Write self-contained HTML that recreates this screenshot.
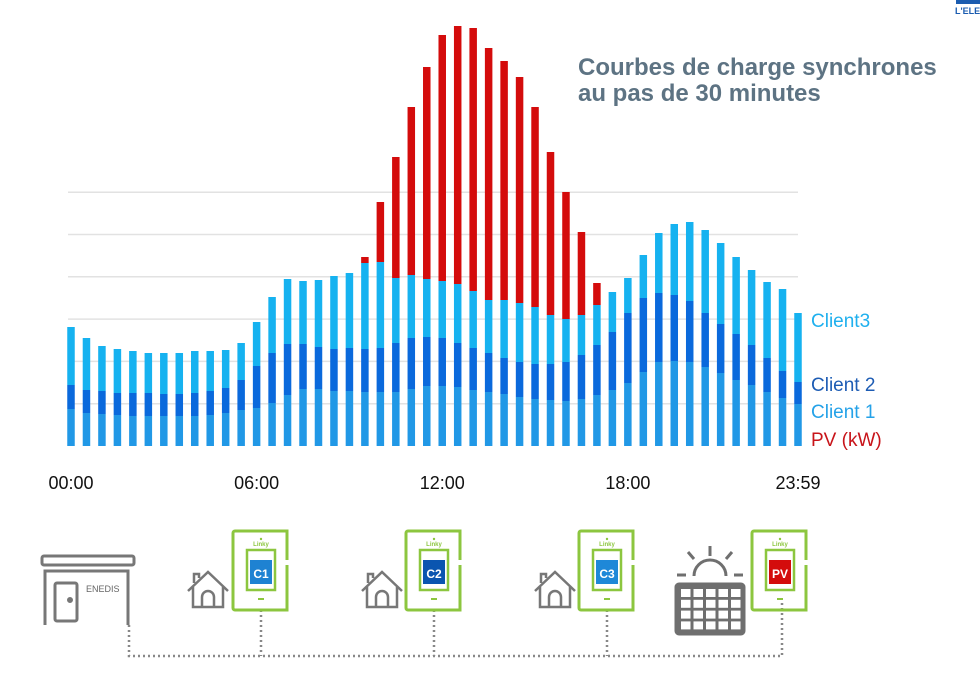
<!DOCTYPE html>
<html><head><meta charset="utf-8">
<style>
body{margin:0;background:#fff;width:980px;height:676px;overflow:hidden;font-family:"Liberation Sans","DejaVu Sans",sans-serif}
svg{position:absolute;left:0;top:0}
</style></head>
<body>
<svg id="chart" width="980" height="676" viewBox="0 0 980 676">
  <text x="955" y="14" font-size="9" font-weight="bold" fill="#1b5cb0">L'ELEC</text>
  <rect x="956" y="0" width="24" height="4" fill="#1b5cb0"/>
  <text x="578" y="75" font-size="24" font-weight="bold" fill="#5d7383">Courbes de charge synchrones</text>
  <text x="578" y="101" font-size="24" font-weight="bold" fill="#5d7383">au pas de 30 minutes</text>
  <g id="grid"></g>
  <g id="bars"></g>
  <g id="xlabels"></g>
  <text x="811" y="327" font-size="19" fill="#1fb0ee">Client3</text>
  <text x="811" y="391" font-size="19" fill="#1d5cb4">Client 2</text>
  <text x="811" y="418" font-size="19" fill="#25a2e8">Client 1</text>
  <text x="811" y="446" font-size="19" fill="#c8141a">PV (kW)</text>

  <g fill="none" stroke="#888" stroke-width="2.5" stroke-dasharray="2 3">
    <path d="M129 625 V656 H782 V600"/>
    <path d="M261 610 V656"/><path d="M434 610 V656"/><path d="M607 610 V656"/>
  </g>
  <g fill="none" stroke="#777" stroke-width="3">
    <rect x="42" y="556" width="92" height="9" rx="2"/>
    <path d="M45 625 V571 H128 V625"/>
    <rect x="55" y="583" width="22" height="38" rx="2"/>
    <circle cx="70" cy="600" r="1.5" fill="#777"/>
    <text x="86" y="592" font-size="9" fill="#666" stroke="none">ENEDIS</text>
  </g>
  <g id="houses"></g>
  <g id="meters"></g>
  <g stroke="#6f6f6f" fill="none" stroke-width="3">
    <path d="M694 576 A16 16 0 0 1 726 576"/>
    <path d="M710 546 v10 M688 552 l6 7 M732 552 l-6 7 M677 575 h9 M734 575 h9"/>
    <rect x="676" y="584" width="68" height="50" rx="3" fill="#6f6f6f"/>
  </g>
  <g id="cells"></g>
</svg>
<script>
const categories = [];
for (let h = 0; h < 24; h++) { categories.push(String(h).padStart(2,'0')+':00'); categories.push(String(h).padStart(2,'0')+':30'); }
const tickLabels = ['00:00','06:00','12:00','18:00','23:59'];
const tickIndex = [0,12,24,36,47];
const client1 = [370,330,320,310,300,300,300,300,300,310,330,360,380,430,510,570,570,550,550,540,540,540,570,600,600,590,560,540,520,490,470,460,450,470,510,560,630,740,840,850,840,790,730,660,610,540,480,420];
const client2 = [240,230,230,220,230,230,220,220,230,240,250,300,420,500,510,450,420,420,430,430,440,490,510,490,480,440,420,390,360,350,350,360,390,440,500,580,700,740,690,660,610,540,490,460,400,340,270,220];
const client3 = [580,520,450,440,420,400,410,410,420,400,380,370,440,560,650,630,670,730,750,860,860,650,630,580,570,590,570,530,580,590,570,490,430,400,400,400,350,430,600,710,790,830,810,770,750,760,820,690];
const pv = [0,0,0,0,0,0,0,0,0,0,0,0,0,0,0,0,0,0,0,60,600,1210,1680,2120,2460,2580,2630,2520,2390,2260,2000,1630,1270,830,220,0,0,0,0,0,0,0,0,0,0,0,0,0];

const NS='http://www.w3.org/2000/svg';
const X0=71, X1=798, BASE=446, VMAX=4230, PH=423, BW=7.5;
const xs = i => X0 + i*(X1-X0)/(categories.length-1);
const ys = v => BASE - v/VMAX*PH;
function mk(tag, attrs, parent){const e=document.createElementNS(NS,tag);for(const k in attrs)e.setAttribute(k,attrs[k]);parent.appendChild(e);return e;}

const grid=document.getElementById('grid');
[1,2,3,4,5,6].forEach(k=>{
  const y=ys(k*VMAX/10);
  const l=mk('line',{x1:68,x2:798,y1:y,y2:y,stroke:'#e2e2e2','stroke-width':1.5},grid);
  
  
});

const bars=document.getElementById('bars');
const series=[['client1',client1,'#2198e6'],['client2',client2,'#0a69dc'],['client3',client3,'#16b2f0'],['pv',pv,'#d40c0c']];
categories.forEach((c,i)=>{
  let acc=0;
  series.forEach(([nm,arr,col])=>{
    const v=arr[i]; if(!v) return;
    const yTop=ys(acc+v), yB=ys(acc);
    const r=mk('rect',{x:xs(i)-BW/2,y:yTop,width:BW,height:yB-yTop,fill:col},bars);
    
    
    acc+=v;
  });
});

const xl=document.getElementById('xlabels');
tickLabels.forEach((t,k)=>{
  const e=mk('text',{x:xs(tickIndex[k]),y:489,'font-size':18,'text-anchor':'middle',fill:'#111'},xl);
  e.textContent=t;
  
  
});

const houses=document.getElementById('houses');
[188,362,535].forEach(x=>{
  const g=mk('g',{fill:'none',stroke:'#777','stroke-width':2.5},houses);
  
  
  mk('path',{d:`M${x} 591 L${x+20} 572 L${x+40} 591 M${x+5} 587 V607 H${x+35} V587 M${x+14} 607 V597 a6 6 0 0 1 12 0 V607 M${x+6} 583 V574 h5 v4`},g);
});

const meters=document.getElementById('meters');
[[233,'C1','#1e82d2'],[406,'C2','#0a55b0'],[579,'C3','#1e88d8'],[752,'PV','#d40c0c']].forEach(([x,lab,col])=>{
  const g=mk('g',{},meters);
  
  
  mk('path',{d:`M${x+54} 560 V531 H${x+2} a2 2 0 0 0 -2 2 V608 a2 2 0 0 0 2 2 H${x+54} V565`,fill:'none',stroke:'#8cc63f','stroke-width':3},g);
  mk('path',{d:`M${x+54} 566 V606`,stroke:'#8cc63f','stroke-width':3},g);
  mk('rect',{x:x+14,y:550,width:28,height:40,fill:'none',stroke:'#8cc63f','stroke-width':2.5},g);
  mk('rect',{x:x+17,y:560,width:22,height:24,fill:col},g);
  mk('circle',{cx:x+28,cy:539,r:1.2,fill:'#8cc63f'},g);
  const lt=mk('text',{x:x+28,y:546,'font-size':6,'text-anchor':'middle',fill:'#8cc63f','font-weight':'bold'},g);lt.textContent='Linky';
  mk('rect',{x:x+25,y:598,width:6,height:2,fill:'#8cc63f'},g);
  const t=mk('text',{x:x+28,y:578,'font-size':12,'font-weight':'bold','text-anchor':'middle',fill:'#fff'},g);
  t.textContent=lab;
});

const cells=document.getElementById('cells');
for(let r=0;r<4;r++)for(let c=0;c<5;c++){
  mk('rect',{x:681+c*12.5,y:589+r*10.8,width:9.5,height:8,fill:'#fff'},cells);
}
</script>
</body></html>
